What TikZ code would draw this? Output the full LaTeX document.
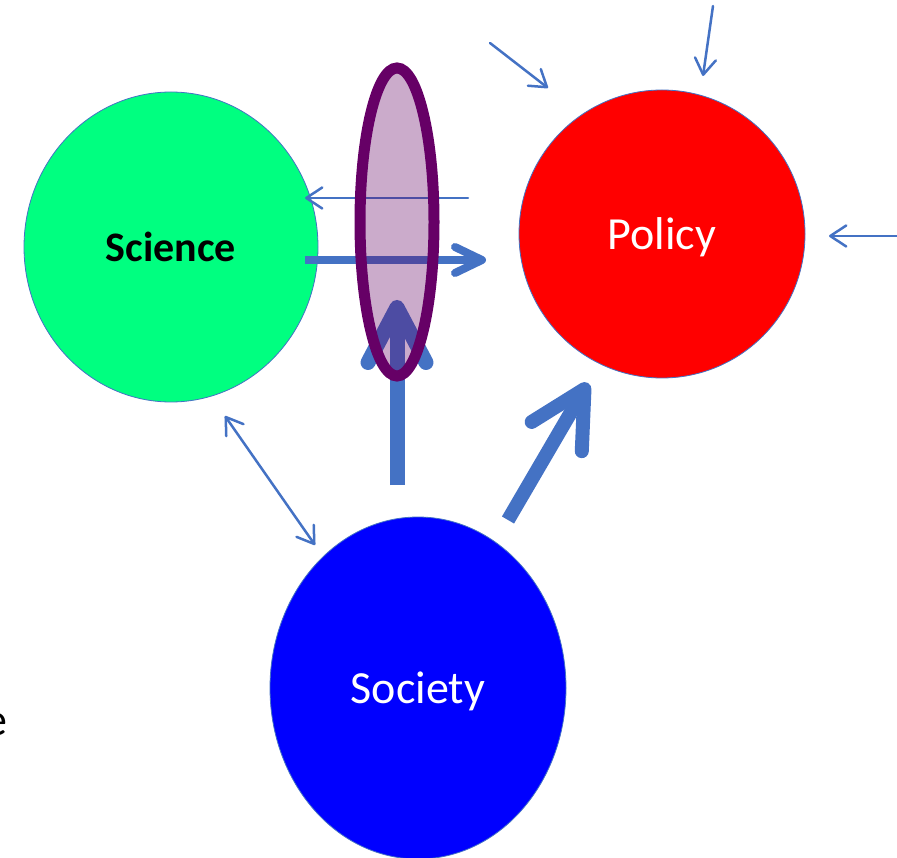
\documentclass[tikz,border=0pt]{standalone}
\usepackage{fontspec}
\setmainfont{Carlito}
\usepackage{tikz}
\usetikzlibrary{shapes,arrows.meta,positioning,calc}
\definecolor{flowblue}{HTML}{4472C4}
\definecolor{scigreen}{HTML}{00FF80}
\definecolor{gateplum}{HTML}{660066}
\definecolor{gatefill}{HTML}{600060}

\begin{document}
\begin{tikzpicture}[x=1pt, y=-1pt,
    sphere/.style={ellipse, draw=flowblue, line width=0.8pt, inner sep=0pt, text depth=0pt},
    thinflow/.style={flowblue, line width=2.5pt, line cap=round,
        -{Straight Barb[length=16pt, width=21pt, round]}},
    bothflow/.style={thinflow, {Straight Barb[length=16pt, width=21pt, round]}-{Straight Barb[length=16pt, width=21pt, round]}},
    bigflow/.style={flowblue, line width=15pt,
        -{Straight Barb[length=55pt, width=58pt, round]}}]
    \useasboundingbox (0,0) rectangle (897,858);
    \clip (0,0) rectangle (897,858);

    % Actors
    \node[sphere, fill=scigreen, minimum width=294pt, minimum height=310pt,
        font=\fontsize{42}{46}\selectfont\bfseries] (sci) at (171,247) {Science};
    \node[sphere, fill=red, text=white, minimum width=286pt, minimum height=288pt,
        font=\fontsize{46}{50}\selectfont] (pol) at (662,234) {Policy};
    \node[sphere, fill=blue, text=white, minimum width=296pt, minimum height=342pt,
        font=\fontsize{46}{50}\selectfont] (soc) at (418,688) {Society};
    \node[anchor=base east, inner sep=0pt, font=\fontsize{46}{50}\selectfont] (cut) at (8,735) {e};

    % Free ends
    \coordinate (backS) at (468,198);  \coordinate (backE) at (305,198);
    \coordinate (fwdS) at (305,260);   \coordinate (fwdE) at (486,260);
    \coordinate (upS) at (397,485);    \coordinate (upE) at (397,300);
    \coordinate (diagS) at (508,520);  \coordinate (diagE) at (588,383);
    \coordinate (linkA) at (225,416);  \coordinate (linkB) at (315,545);
    \coordinate (inA) at (490,43);     \coordinate (inAE) at (548,88);
    \coordinate (inB) at (713,6);      \coordinate (inBE) at (703,76);
    \coordinate (inC) at (897,236);    \coordinate (inCE) at (829,236);

    % Flows
    \draw[thinflow] (backS) -- (backE);
    \draw[flowblue, line width=8pt,
        -{Straight Barb[length=27pt, width=26pt, round]}] (fwdS) -- (fwdE);
    \draw[bigflow] (upS) -- (upE);
    \draw[bigflow, line width=14pt] (diagS) -- (diagE);
    \draw[bothflow] (linkA) -- (linkB);
    \foreach \s/\e in {inA/inAE, inB/inBE, inC/inCE}
        \draw[thinflow] (\s) -- (\e);

    % Filter
    \node[ellipse, minimum width=74pt, minimum height=308pt, draw=gateplum,
        line width=11pt, fill=gatefill, fill opacity=0.33] (gate) at (397,222) {};
\end{tikzpicture}
\end{document}
